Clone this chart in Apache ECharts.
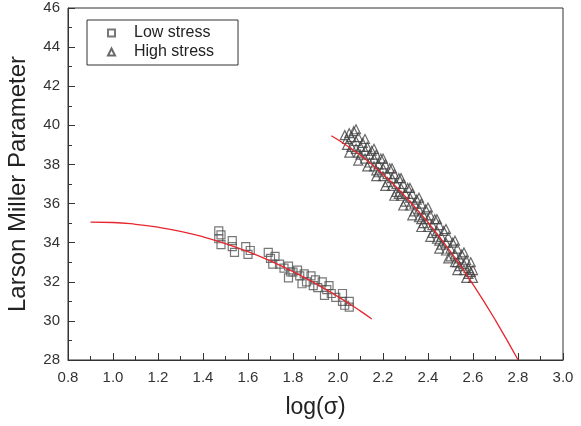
<!DOCTYPE html>
<html>
<head>
<meta charset="utf-8">
<script src="https://cdn.jsdelivr.net/npm/echarts@6/dist/echarts.min.js"></script>
<style>
  html, body { margin: 0; padding: 0; background: #fff; }
  #chart { width: 581px; height: 426px; }
</style>
</head>
<body>
<div id="chart"></div>
<script>
  // 散点数据 [log(σ), LMP]
  var lowStress = [
    [1.47, 34.6], [1.47, 34.2], [1.48, 33.9], [1.48, 34.4], [1.53, 34.1], [1.53, 33.8],
    [1.54, 33.5], [1.59, 33.8], [1.60, 33.4], [1.61, 33.6], [1.69, 33.5], [1.70, 33.2],
    [1.71, 32.9], [1.72, 33.3], [1.74, 32.9], [1.76, 32.7], [1.78, 32.8], [1.78, 32.2],
    [1.79, 32.5], [1.80, 32.5], [1.82, 32.6], [1.83, 32.3], [1.84, 31.9], [1.85, 32.4],
    [1.86, 32.0], [1.88, 32.3], [1.89, 31.8], [1.90, 32.1], [1.91, 31.7], [1.93, 32.0],
    [1.94, 31.3], [1.95, 31.6], [1.96, 31.8], [1.97, 31.4], [1.99, 31.2], [2.02, 31.4],
    [2.02, 31.0], [2.03, 30.8], [2.05, 31.0], [2.05, 30.7]
  ];
  var highStress = [
    [2.03, 39.5], [2.04, 39.3], [2.04, 39.0], [2.05, 39.6], [2.06, 38.9], [2.06, 39.4],
    [2.07, 39.7], [2.08, 38.8], [2.08, 39.2], [2.09, 39.4], [2.10, 38.5], [2.10, 38.9],
    [2.11, 39.1], [2.12, 38.3], [2.12, 38.7], [2.13, 38.9], [2.14, 38.1], [2.14, 38.5],
    [2.15, 38.7], [2.16, 37.9], [2.16, 38.3], [2.17, 38.5], [2.18, 37.6], [2.18, 38.0],
    [2.19, 38.3], [2.20, 37.4], [2.20, 37.8], [2.21, 38.0], [2.22, 37.1], [2.22, 37.5],
    [2.23, 37.8], [2.24, 36.9], [2.24, 37.3], [2.25, 37.5], [2.26, 36.6], [2.26, 37.0],
    [2.27, 37.3], [2.28, 36.4], [2.28, 36.8], [2.29, 37.0], [2.30, 36.1], [2.30, 36.5],
    [2.31, 36.8], [2.32, 35.9], [2.32, 36.3], [2.33, 36.5], [2.34, 35.6], [2.34, 36.0],
    [2.35, 36.2], [2.36, 35.3], [2.36, 35.7], [2.37, 36.0], [2.38, 35.0], [2.38, 35.4],
    [2.39, 35.7], [2.40, 34.8], [2.40, 35.2], [2.41, 35.4], [2.42, 34.5], [2.42, 34.9],
    [2.43, 35.2], [2.44, 34.2], [2.44, 34.6], [2.45, 34.9], [2.46, 33.9], [2.46, 34.3],
    [2.47, 34.6], [2.48, 33.6], [2.48, 34.0], [2.49, 34.3], [2.50, 33.3], [2.50, 33.7],
    [2.51, 34.0], [2.52, 33.0], [2.52, 33.4], [2.53, 33.7], [2.54, 32.8], [2.54, 33.2],
    [2.55, 33.4], [2.56, 32.6], [2.56, 32.9], [2.57, 33.1], [2.58, 32.4], [2.58, 32.7],
    [2.59, 32.5], [2.60, 32.2], [2.60, 32.6], [2.09, 38.6], [2.17, 37.7], [2.27, 36.5],
    [2.37, 35.2], [2.45, 34.1], [2.53, 33.0],
    [2.05, 38.6], [2.09, 38.2], [2.13, 37.9], [2.17, 37.4], [2.21, 36.9], [2.25, 36.4],
    [2.29, 35.9], [2.33, 35.4], [2.37, 34.8], [2.41, 34.3], [2.45, 33.7], [2.49, 33.2],
    [2.53, 32.6], [2.57, 32.2], [2.08, 39.8], [2.12, 39.3], [2.16, 38.8], [2.20, 38.3],
    [2.24, 37.8], [2.28, 37.3], [2.32, 36.8], [2.36, 36.3], [2.40, 35.8], [2.44, 35.2],
    [2.48, 34.7], [2.52, 34.1], [2.56, 33.5], [2.59, 33.0]
  ];
  // 拟合曲线
  var lowFit = [
    [0.90, 35.05], [1.00, 35.03], [1.10, 34.94], [1.20, 34.79], [1.30, 34.58],
    [1.40, 34.30], [1.50, 33.95], [1.60, 33.54], [1.70, 33.06], [1.80, 32.52],
    [1.90, 31.91], [2.00, 31.24], [2.10, 30.50], [2.15, 30.10]
  ];
  var highFit = [
    [1.97, 39.47], [2.00, 39.26], [2.10, 38.47], [2.20, 37.50], [2.30, 36.35],
    [2.40, 35.03], [2.50, 33.54], [2.60, 31.87], [2.70, 30.03], [2.80, 28.01]
  ];

  var font = 'Liberation Sans, Arial, sans-serif';
  var chart = echarts.init(document.getElementById('chart'));

  var option = {
    animation: false,
    textStyle: { fontFamily: font },
    grid: {
      left: 68, right: 18, top: 8, bottom: 66,
      outerBoundsMode: 'none',
      show: true, borderColor: '#333', borderWidth: 1
    },
    legend: {
      data: ['Low stress', 'High stress'],
      orient: 'vertical',
      left: 87, top: 20,
      padding: [5, 24, 5, 20],
      itemGap: 3,
      itemWidth: 7, itemHeight: 7,
      borderColor: '#333', borderWidth: 1, borderRadius: 0,
      textStyle: { fontSize: 16, color: '#222', fontFamily: font, padding: [0, 0, 0, 14] }
    },
    xAxis: {
      type: 'value',
      min: 0.8, max: 3.0, interval: 0.2,
      name: 'log(σ)',
      nameLocation: 'middle',
      nameGap: 36,
      nameTextStyle: { fontSize: 23, color: '#222', fontFamily: font },
      axisLine: { lineStyle: { color: '#333' } },
      axisTick: { inside: true, length: 7, lineStyle: { color: '#333' } },
      minorTick: { show: true, splitNumber: 2, length: 4, lineStyle: { color: '#333' } },
      axisLabel: { fontSize: 15, color: '#333', margin: 10, formatter: function (v) { return v.toFixed(1); } },
      splitLine: { show: false }
    },
    yAxis: {
      type: 'value',
      min: 28, max: 46, interval: 2,
      name: 'Larson Miller Parameter',
      nameLocation: 'middle',
      nameGap: 38,
      nameTextStyle: { fontSize: 24, color: '#222', fontFamily: font },
      axisLine: { lineStyle: { color: '#333' } },
      axisTick: { inside: true, length: 7, lineStyle: { color: '#333' } },
      minorTick: { show: true, splitNumber: 2, length: 4, lineStyle: { color: '#333' } },
      axisLabel: { fontSize: 15, color: '#333', margin: 8 },
      splitLine: { show: false }
    },
    series: [
      {
        name: 'Low stress',
        type: 'scatter',
        symbol: 'rect',
        symbolSize: [8, 8],
        data: lowStress,
        itemStyle: { color: 'rgba(255,255,255,0)', borderColor: '#555', borderWidth: 1.2 }
      },
      {
        name: 'High stress',
        type: 'scatter',
        symbol: 'triangle',
        symbolSize: [9, 9],
        data: highStress,
        itemStyle: { color: 'rgba(255,255,255,0)', borderColor: '#444', borderWidth: 1.2 }
      },
      {
        name: 'lowFit',
        type: 'line',
        data: lowFit,
        smooth: true,
        showSymbol: false,
        lineStyle: { color: '#e8262e', width: 1.3 },
        z: 5
      },
      {
        name: 'highFit',
        type: 'line',
        data: highFit,
        smooth: true,
        showSymbol: false,
        lineStyle: { color: '#e8262e', width: 1.3 },
        z: 5
      }
    ]
  };

  chart.setOption(option);
</script>
</body>
</html>
